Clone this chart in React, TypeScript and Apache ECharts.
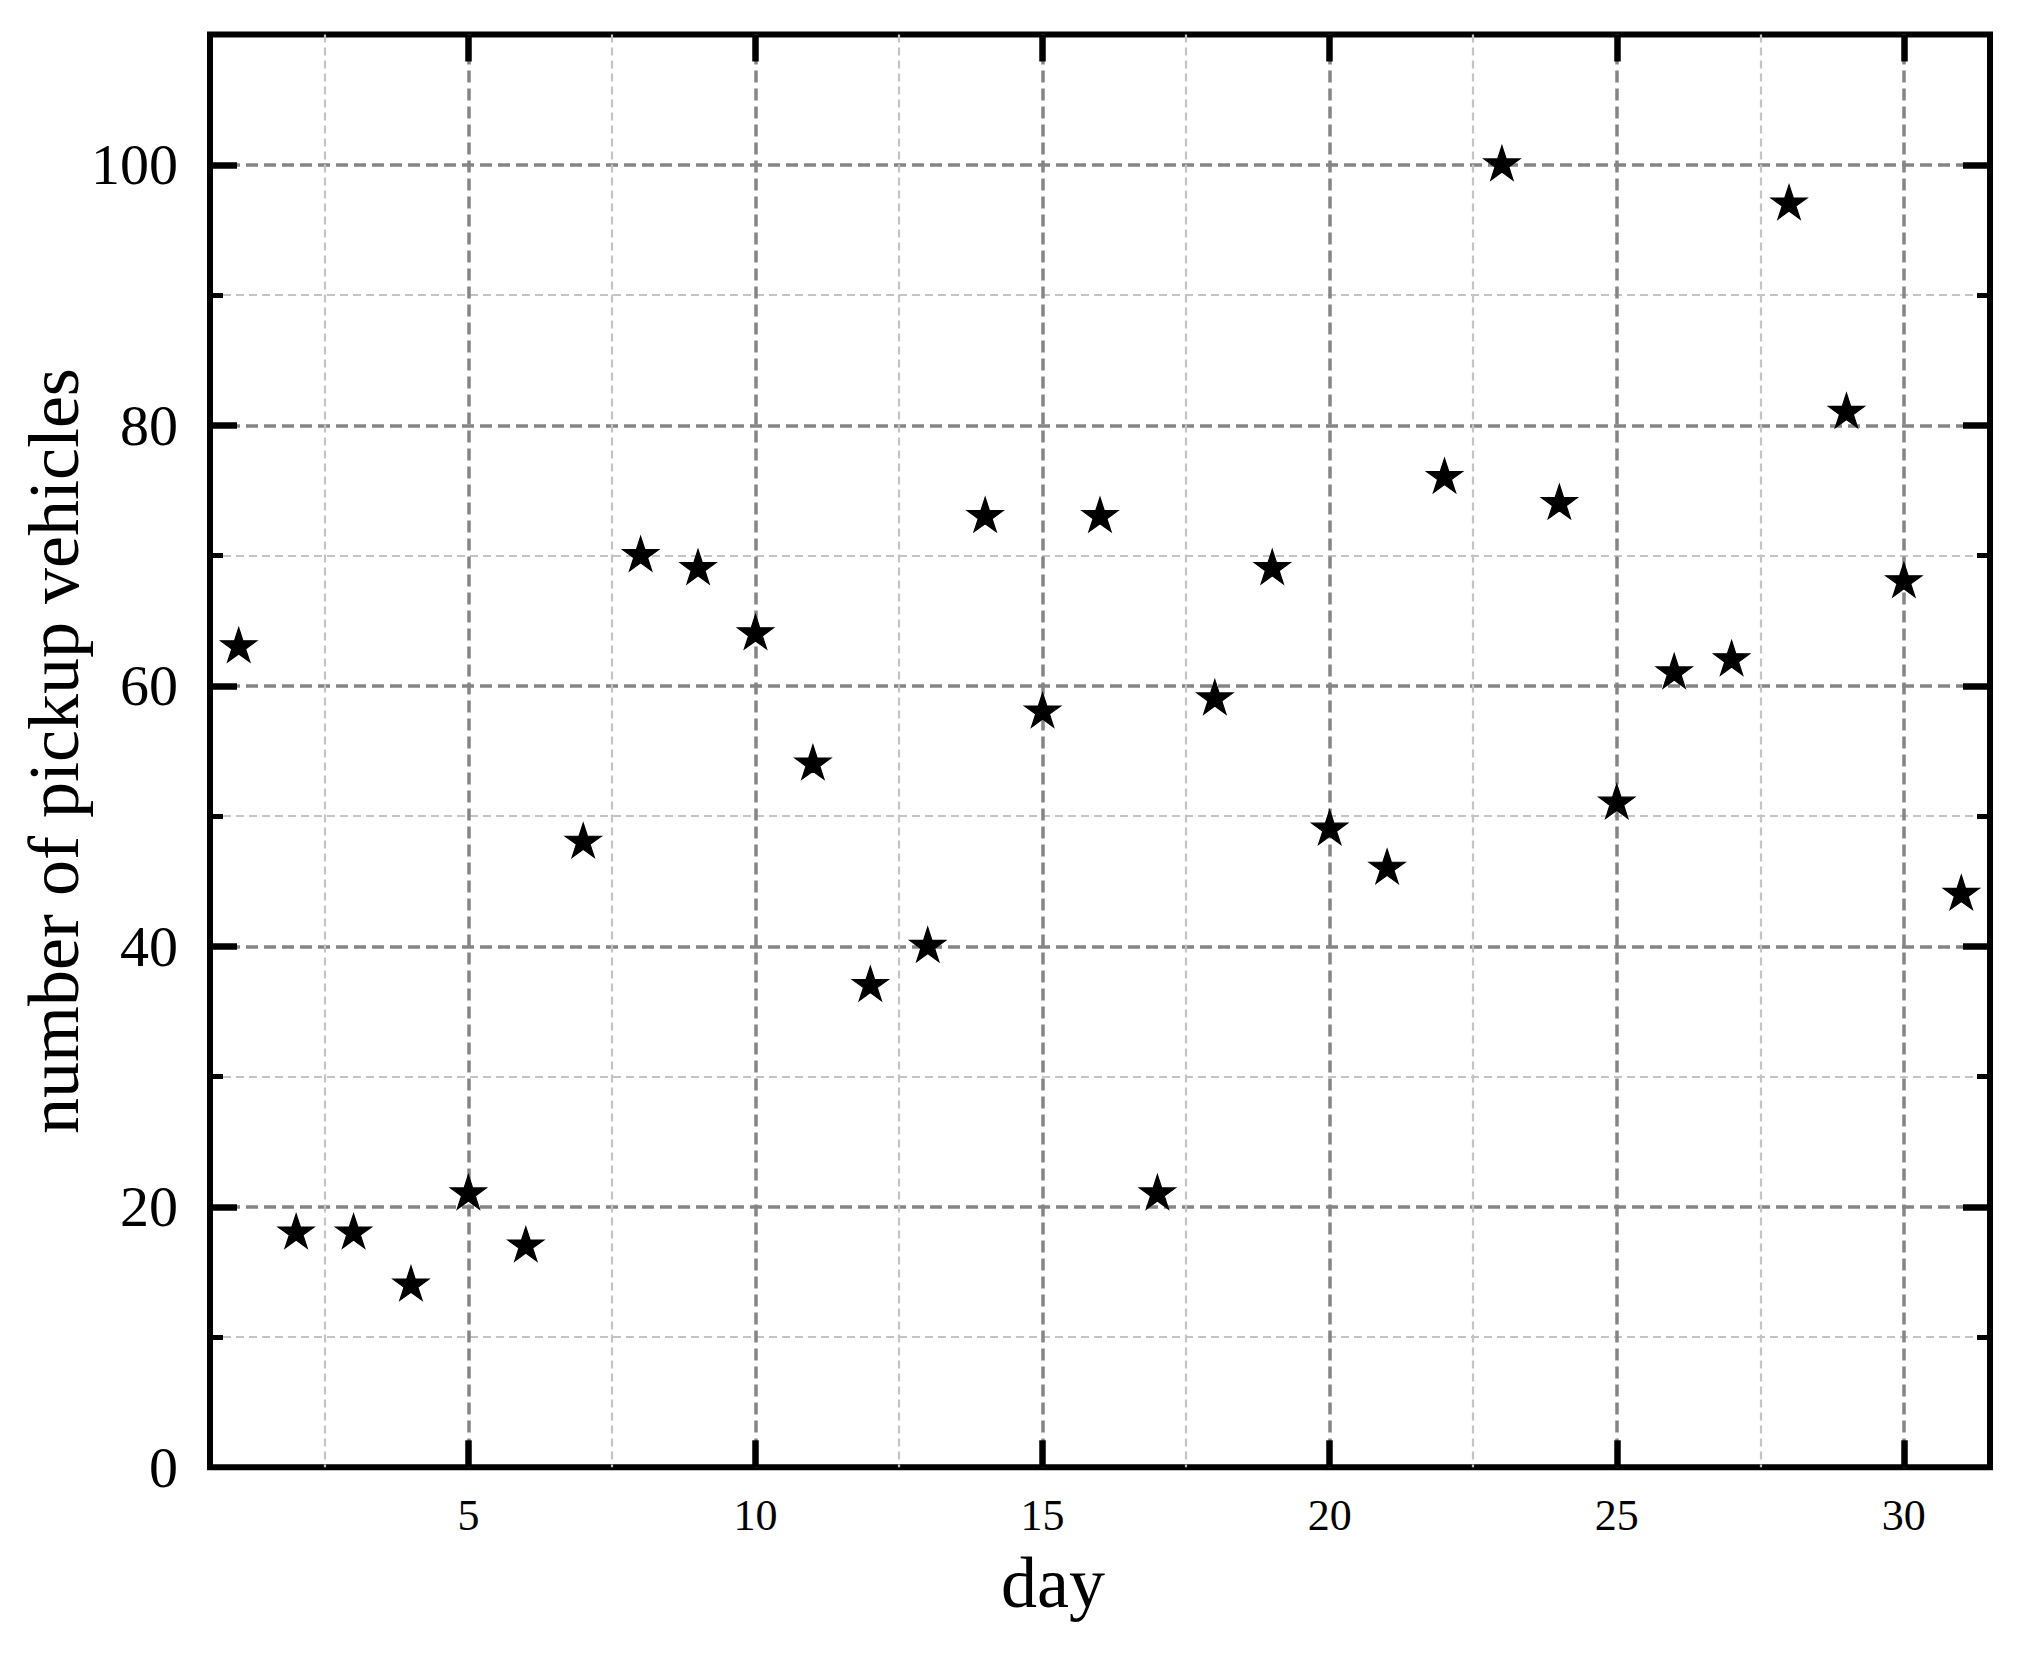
import React, { useEffect, useRef } from "react";
import * as echarts from "echarts";

// ---- data ----
const days = [1, 2, 3, 4, 5, 6, 7, 8, 9, 10, 11, 12, 13, 14, 15, 16, 17, 18, 19, 20, 21, 22, 23, 24, 25, 26, 27, 28, 29, 30, 31];
const pickups = [63, 18, 18, 14, 21, 17, 48, 70, 69, 64, 54, 37, 40, 73, 58, 73, 21, 59, 69, 49, 46, 76, 100, 74, 51, 61, 62, 97, 81, 68, 44];

// ---- axes ----
const xRange = [0.5, 31.5];
const yRange = [0, 110];
const xMajorTicks = [5, 10, 15, 20, 25, 30];
const xMinorTicks = [2.5, 7.5, 12.5, 17.5, 22.5, 27.5];
const yLabelValues = [0, 20, 40, 60, 80, 100];
const yMajorTicks = [20, 40, 60, 80, 100];
const yMinorTicks = [10, 30, 50, 70, 90];
const xTitle = "day";
const yTitle = "number of pickup vehicles";

const FONT = '"Liberation Serif", "DejaVu Serif", "Times New Roman", serif';
const STAR =
  "path://M0,-100 L22.45,-30.9 L95.11,-30.9 L36.33,11.8 L58.78,80.9 L0,38.2 L-58.78,80.9 L-36.33,11.8 L-95.11,-30.9 L-22.45,-30.9 Z";

const majorGrid = { show: true, lineStyle: { color: "#858585", width: 3.5, type: [12, 6] } };
const minorGrid = { show: true, lineStyle: { color: "#c4c4c4", width: 2.2, type: [8, 5] } };

export default function App() {
  const ref = useRef<HTMLDivElement>(null);

  useEffect(() => {
    if (!ref.current) return;
    const chart = echarts.init(ref.current, null, { renderer: "svg" });
    const hidden = { show: false };
    const baseX = { type: "value", min: xRange[0], max: xRange[1], axisLine: { show: false, onZero: false } };
    const baseY = { type: "value", min: yRange[0], max: yRange[1], axisLine: { show: false, onZero: false } };

    chart.setOption({
      animation: false,
      backgroundColor: "#ffffff",
      grid: {
        left: 210,
        right: 29,
        top: 34.5,
        bottom: 185.7,
        show: true,
        borderColor: "#000",
        borderWidth: 6,
        backgroundColor: "transparent",
      },
      xAxis: [
        {
          ...baseX,
          position: "bottom",
          axisTick: { show: true, inside: true, length: 27, customValues: xMajorTicks, lineStyle: { color: "#000", width: 6.5 } },
          axisLabel: { show: true, customValues: xMajorTicks, margin: 26, color: "#000", fontFamily: FONT, fontSize: 44 },
          splitLine: majorGrid,
        },
        {
          ...baseX,
          position: "bottom",
          axisTick: { show: false, customValues: xMinorTicks },
          axisLabel: hidden,
          splitLine: minorGrid,
        },
        {
          ...baseX,
          position: "top",
          axisTick: { show: true, inside: true, length: 27, customValues: xMajorTicks, lineStyle: { color: "#000", width: 6.5 } },
          axisLabel: hidden,
          splitLine: hidden,
        },
      ],
      yAxis: [
        {
          ...baseY,
          position: "left",
          axisTick: { show: true, inside: true, length: 27, customValues: yMajorTicks, lineStyle: { color: "#000", width: 6.5 } },
          axisLabel: { show: true, customValues: yLabelValues, margin: 32, color: "#000", fontFamily: FONT, fontSize: 58 },
          splitLine: majorGrid,
        },
        {
          ...baseY,
          position: "left",
          axisTick: { show: true, inside: true, length: 13, customValues: yMinorTicks, lineStyle: { color: "#000", width: 5 } },
          axisLabel: hidden,
          splitLine: minorGrid,
        },
        {
          ...baseY,
          position: "right",
          axisTick: { show: true, inside: true, length: 27, customValues: yMajorTicks, lineStyle: { color: "#000", width: 6.5 } },
          axisLabel: hidden,
          splitLine: hidden,
        },
        {
          ...baseY,
          position: "right",
          axisTick: { show: true, inside: true, length: 13, customValues: yMinorTicks, lineStyle: { color: "#000", width: 5 } },
          axisLabel: hidden,
          splitLine: hidden,
        },
      ],
      graphic: [
        {
          type: "text",
          x: 1053,
          y: 1583,
          style: { text: xTitle, fontFamily: FONT, fontSize: 72, fill: "#000", align: "center", verticalAlign: "middle" },
        },
        {
          type: "text",
          x: 54,
          y: 751,
          rotation: Math.PI / 2,
          style: { text: yTitle, fontFamily: FONT, fontSize: 72, fill: "#000", align: "center", verticalAlign: "middle" },
        },
      ],
      series: [
        {
          type: "scatter",
          xAxisIndex: 0,
          yAxisIndex: 0,
          data: days.map((d, i) => [d, pickups[i]]),
          symbol: STAR,
          symbolSize: [36, 34.3],
          symbolOffset: [0, -1.8],
          itemStyle: { color: "#000", borderColor: "#000", borderWidth: 1.2, opacity: 1 },
          z: 10,
        },
      ],
    });
    return () => chart.dispose();
  }, []);

  return <div ref={ref} style={{ position: "absolute", left: 0, top: 0, width: 2019, height: 1653 }} />;
}
